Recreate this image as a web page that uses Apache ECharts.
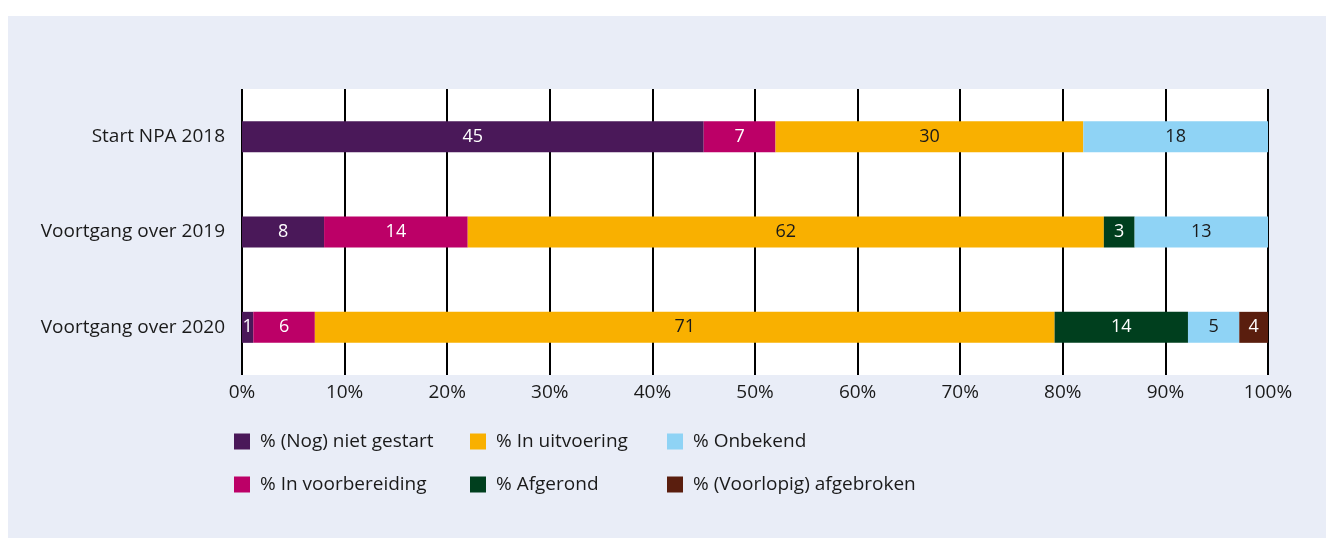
<!DOCTYPE html>
<html>
<head>
<meta charset="utf-8">
<script src="https://cdn.jsdelivr.net/npm/echarts@6/dist/echarts.min.js"></script>
<style>
  html, body { margin: 0; padding: 0; background: #fff; }
  #panel {
    position: absolute;
    left: 8px;
    top: 16px;
    width: 1318px;
    height: 522px;
    background: #e9edf7;
  }
</style>
</head>
<body>
<div id="panel"></div>
<script>
// rijen (van boven naar beneden)
const categories = ['Start NPA 2018', 'Voortgang over 2019', 'Voortgang over 2020']
const seriesNames = [
  '% (Nog) niet gestart',
  '% In voorbereiding',
  '% In uitvoering',
  '% Afgerond',
  '% Onbekend',
  '% (Voorlopig) afgebroken'
]
// breedtes zoals getekend (percentage van de balk)
const nietGestart = [45, 8, 1.1]
const voorbereiding = [7, 14, 6]
const uitvoering = [30, 62, 72.1]
const afgerond = [0, 3, 13]
const onbekend = [18, 13, 5]
const afgebroken = [0, 0, 2.8]
// getallen zoals ze in de balken staan
const labelsNietGestart = [45, 8, 1]
const labelsVoorbereiding = [7, 14, 6]
const labelsUitvoering = [30, 62, 71]
const labelsAfgerond = [null, 3, 14]
const labelsOnbekend = [18, 13, 5]
const labelsAfgebroken = [null, null, 4]
const xTicks = [0, 10, 20, 30, 40, 50, 60, 70, 80, 90, 100]

const colors = ['#4a1859', '#bc0067', '#f9b000', '#003f1e', '#8fd3f5', '#5a1e0e']
const labelColors = ['#fff', '#fff', '#1a1a1a', '#fff', '#1a1a1a', '#fff']
const values = [nietGestart, voorbereiding, uitvoering, afgerond, onbekend, afgebroken]
const labels = [labelsNietGestart, labelsVoorbereiding, labelsUitvoering, labelsAfgerond, labelsOnbekend, labelsAfgebroken]

const font = "'Open Sans', 'Noto Sans', sans-serif"
const fontSize = 19
const chart = echarts.init(document.getElementById('panel'))

const series = seriesNames.map((name, i) => ({
  name: name,
  type: 'bar',
  stack: 'totaal',
  barWidth: 31,
  itemStyle: { color: colors[i] },
  label: {
    show: true,
    position: 'inside',
    color: labelColors[i],
    fontFamily: font,
    fontSize: 18,
    formatter: p => labels[i][p.dataIndex] == null ? '' : String(labels[i][p.dataIndex])
  },
  data: values[i].map(v => (v === 0 ? null : v))
}))

const legendBase = {
  orient: 'vertical',
  top: 416,
  padding: 0,
  itemWidth: 16,
  itemHeight: 16,
  itemGap: 24,
  icon: 'rect',
  textStyle: { fontFamily: font, fontSize: fontSize, color: '#1a1a1a', padding: [0, 0, 0, 5] }
}

chart.setOption({
  animation: false,
  color: colors,
  grid: {
    left: 234,
    right: 58,
    top: 73,
    bottom: 163,
    show: true,
    backgroundColor: '#fff',
    borderWidth: 0
  },
  legend: [
    Object.assign({}, legendBase, { left: 226, data: [seriesNames[0], seriesNames[1]] }),
    Object.assign({}, legendBase, { left: 462, data: [seriesNames[2], seriesNames[3]] }),
    Object.assign({}, legendBase, { left: 659, data: [seriesNames[4], seriesNames[5]] })
  ],
  xAxis: {
    type: 'value',
    min: xTicks[0],
    max: xTicks[xTicks.length - 1],
    interval: 10,
    axisLine: { show: false },
    axisTick: { show: false },
    splitLine: { show: true, lineStyle: { color: '#000', width: 2 } },
    axisLabel: {
      fontFamily: font,
      fontSize: fontSize,
      color: '#1a1a1a',
      margin: 8,
      formatter: v => v + '%'
    }
  },
  yAxis: {
    type: 'category',
    inverse: true,
    data: categories,
    axisLine: { show: false },
    axisTick: { show: false },
    axisLabel: {
      fontFamily: font,
      fontSize: fontSize,
      color: '#1a1a1a',
      margin: 17
    }
  },
  series: series
})
</script>
</body>
</html>
